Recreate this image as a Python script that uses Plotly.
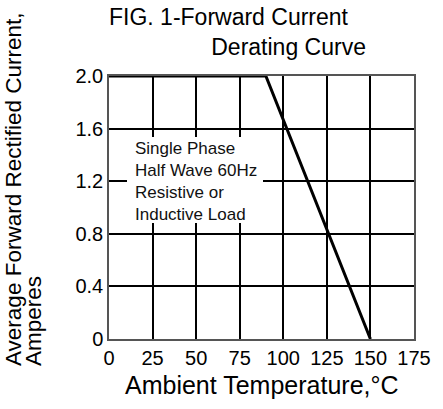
import plotly.graph_objects as go

# Data
temperature = [0, 90, 150]          # Ambient temperature, °C
current = [2.0, 2.0, 0.0]           # Average forward rectified current, A
x_ticks = [0, 25, 50, 75, 100, 125, 150, 175]
x_tick_labels = ["0", "25", "50", "75", "100", "125", "150", "175"]
y_ticks = [0, 0.4, 0.8, 1.2, 1.6, 2.0]
y_tick_labels = ["0", "0.4", "0.8", "1.2", "1.6", "2.0"]

FONT = "Liberation Sans, Arial, Helvetica, sans-serif"
W, H = 443, 409
ML, MR, MT, MB = 109, 29, 76, 70
PW, PH = W - ML - MR, H - MT - MB


def px(xp):
    return (xp - ML) / PW


def py(yp):
    return (H - MB - yp) / PH


fig = go.Figure()
fig.add_trace(go.Scatter(
    x=temperature, y=current, mode="lines",
    line=dict(color="black", width=3),
    showlegend=False, hoverinfo="skip", cliponaxis=False,
))

fig.update_layout(
    width=W, height=H,
    margin=dict(l=ML, r=MR, t=MT, b=MB),
    paper_bgcolor="white", plot_bgcolor="white",
    font=dict(family=FONT, color="black"),
    showlegend=False,
    xaxis=dict(
        range=[0, 175], tickvals=x_ticks, ticktext=x_tick_labels,
        tickfont=dict(size=20, family=FONT, color="black"),
        showgrid=True, gridcolor="black", gridwidth=1.5,
        showline=True, linecolor="#555", linewidth=1.5, mirror=True,
        ticks="", zeroline=False, fixedrange=True,
    ),
    yaxis=dict(
        range=[0, 2.0], tickvals=y_ticks, ticktext=y_tick_labels,
        tickfont=dict(size=20, family=FONT, color="black"),
        showgrid=True, gridcolor="black", gridwidth=1.5,
        showline=True, linecolor="#555", linewidth=1.5, mirror=True,
        ticks="", zeroline=False, fixedrange=True,
    ),
)

# White box behind the note
fig.add_shape(type="rect", xref="paper", yref="paper",
              x0=px(127), x1=px(263), y0=py(223), y1=py(137),
              fillcolor="white", line=dict(width=0), layer="above")

fig.add_annotation(
    text="Single Phase<br>Half Wave 60Hz<br>Resistive or<br>Inductive Load",
    xref="paper", yref="paper", x=px(133), y=py(181), xanchor="left", yanchor="middle",
    align="left", showarrow=False, font=dict(size=17, family=FONT, color="#111"),
)

# Title (two lines, second line indented)
fig.add_annotation(text="FIG. 1-Forward Current<br>" + "\u00a0" * 16 + "Derating Curve",
                   xref="paper", yref="paper", align="left",
                   x=px(107), y=py(32), xanchor="left", yanchor="middle",
                   showarrow=False, font=dict(size=23, family=FONT, color="black"))

# Axis titles
fig.add_annotation(text="Ambient Temperature,°C", xref="paper", yref="paper",
                   x=px(262), y=py(385), xanchor="center", yanchor="middle",
                   showarrow=False, font=dict(size=25, family=FONT, color="black"))
fig.add_annotation(text="Average Forward Rectified Current,", xref="paper", yref="paper",
                   x=px(13), y=py(368), xanchor="center", yanchor="bottom", textangle=-90,
                   showarrow=False, font=dict(size=22.5, family=FONT, color="black"))
fig.add_annotation(text="Amperes", xref="paper", yref="paper",
                   x=px(33), y=py(368), xanchor="center", yanchor="bottom", textangle=-90,
                   showarrow=False, font=dict(size=22.5, family=FONT, color="black"))

fig.write_html("out.html", config={"displayModeBar": False},
               post_script="document.body.style.margin='0';")
